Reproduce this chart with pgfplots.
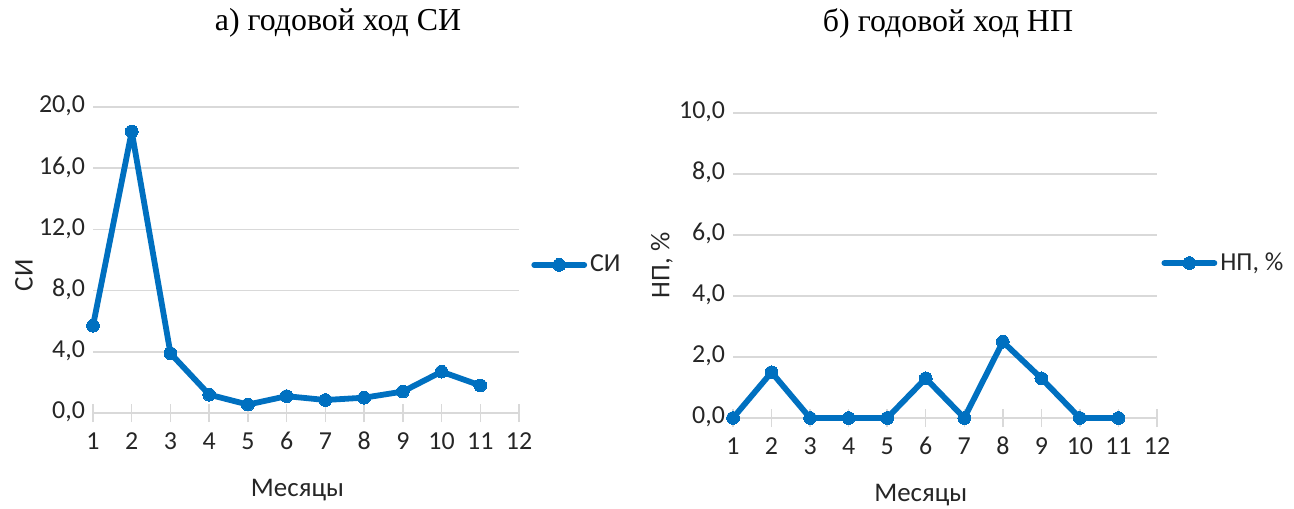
\documentclass[border=0pt]{standalone}
\usepackage{fontspec}
\setmainfont{Liberation Serif}
\newfontfamily\calibri{Carlito}
\usepackage{pgfplots}
\pgfplotsset{compat=1.18}
\definecolor{xlblue}{HTML}{0070C0}
\definecolor{xlgrid}{HTML}{D9D9D9}
\definecolor{xltext}{HTML}{262626}

\pgfplotsset{
  xlstyle/.style={
    scale only axis,
    clip=false,
    xmin=1, xmax=12,
    xtick={1,...,12},
    axis x line*=bottom,
    axis y line*=left,
    y axis line style={draw=none},
    x axis line style={draw=xlgrid, line width=0.75bp},
    ytick style={draw=none},
    xtick style={draw=xlgrid, line width=0.75bp},
    tick align=center,
    major tick length=9bp,
    ymajorgrids,
    grid style={draw=xlgrid, line width=0.75bp},
    tick label style={font=\calibri\fontsize{13}{15}\selectfont, text=xltext},
    typeset ticklabels with strut,
    label style={font=\calibri\fontsize{13.5}{16}\selectfont, text=xltext},
    /pgf/number format/assume math mode=true,
    yticklabel style={xshift=4bp, /pgf/number format/.cd, fixed, fixed zerofill, precision=1, use comma},
    xticklabel style={/pgf/number format/.cd, int detect},
    legend style={draw=none, fill=none, anchor=west, font=\calibri\fontsize{13}{15}\selectfont,
      text=xltext, nodes={inner xsep=1.5bp}},
    legend image code/.code={
      \draw[mark repeat=2, mark phase=2, ##1] plot coordinates {(0bp,0bp) (12.5bp,0bp) (25bp,0bp)};
    },
  },
  xlline/.style={color=xlblue, line width=2.9bp, line join=round, line cap=round,
    mark=*, mark size=3.2bp, mark options={solid, line width=0pt, fill=xlblue}},
}

\begin{document}
\begin{tikzpicture}
\path[use as bounding box] (0,0) rectangle (647bp,254.5bp);

\begin{axis}[
  xlstyle,
  at={(46.5bp,48bp)}, anchor=south west,
  width=213bp, height=153bp,
  ymin=0, ymax=20, ytick={0,4,...,20},
  xlabel={Месяцы},
  xlabel style={at={(axis description cs:0.48,-0.252)}, anchor=center},
  ylabel={СИ},
  ylabel style={at={(axis description cs:-0.162,0.45)}, anchor=center},
  legend style={at={(axis description cs:1.014,0.484)}},
]
\addplot[xlline] coordinates {(1,5.7) (2,18.4) (3,3.9) (4,1.2) (5,0.55) (6,1.1) (7,0.85) (8,1.0) (9,1.4) (10,2.7) (11,1.8)};
\addlegendentry{СИ}
\end{axis}

\begin{axis}[
  xlstyle,
  at={(366.5bp,45.5bp)}, anchor=south west,
  width=212bp, height=152.5bp,
  ymin=0, ymax=10, ytick={0,2,...,10},
  xlabel={Месяцы},
  xlabel style={at={(axis description cs:0.443,-0.252)}, anchor=center},
  ylabel={НП, \%},
  ylabel style={at={(axis description cs:-0.1675,0.5)}, anchor=center},
  legend style={at={(axis description cs:0.9955,0.508)}},
]
\addplot[xlline] coordinates {(1,0) (2,1.5) (3,0) (4,0) (5,0) (6,1.3) (7,0) (8,2.5) (9,1.3) (10,0) (11,0)};
\addlegendentry{НП, \%}
\end{axis}

\node[font=\fontsize{16}{19}\selectfont, anchor=center] at (169bp,243bp) {а) годовой ход СИ};
\node[font=\fontsize{16}{19}\selectfont, anchor=center] at (474bp,243bp) {б) годовой ход НП};
\end{tikzpicture}
\end{document}
